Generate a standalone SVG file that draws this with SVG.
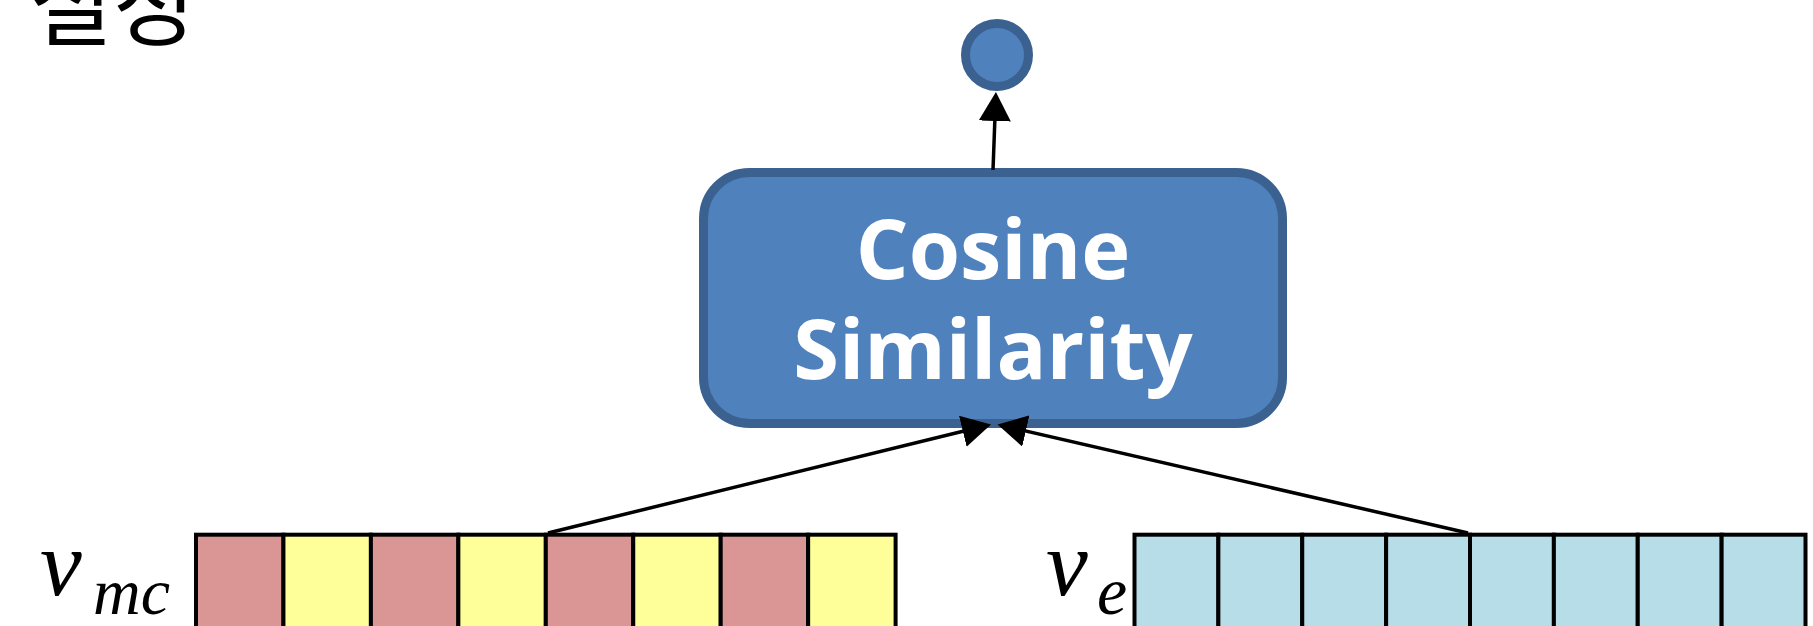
<svg xmlns="http://www.w3.org/2000/svg" width="1813" height="626" viewBox="0 0 1813 626">
  <style>
    .title { font-family: "Noto Sans CJK KR", "Noto Sans", sans-serif; font-size: 90px; fill: #000; }
    .node-box { fill: #4F81BD; stroke: #3A6190; stroke-width: 9; }
    .node-label { font-family: "Open Sans", "Liberation Sans", sans-serif; font-weight: 700; font-size: 83px; fill: #FFFFFF; text-anchor: middle; }
    .cell { stroke: #000; stroke-width: 4; }
    .pink { fill: #D99694; }
    .yellow { fill: #FFFF99; }
    .aqua { fill: #B7DDE8; }
    .math { font-family: "Liberation Serif", "DejaVu Serif", serif; font-style: italic; fill: #000; }
    .edge { stroke: #000; stroke-width: 3.5; fill: none; }
  </style>
  <defs>
    <marker id="arrow" markerUnits="userSpaceOnUse" markerWidth="30" markerHeight="32" refX="18" refY="16" orient="auto">
      <path d="M0,0 L29,16 L0,32 Z" fill="#000"/>
    </marker>
  </defs>

  <rect width="1813" height="626" fill="#FFFFFF"/>

  <!-- heading, clipped by the top edge -->
  <text class="title" x="30" y="38">설정</text>

  <!-- output score -->
  <g id="node-output">
    <circle cx="997" cy="55" r="31.5" fill="#4F81BD" stroke="#3A6190" stroke-width="9"/>
  </g>

  <!-- similarity block -->
  <g id="node-cosine">
    <rect class="node-box" x="703.5" y="172.5" width="579" height="251" rx="46" ry="46"/>
    <text class="node-label" x="993" y="279">Cosine</text>
    <text class="node-label" x="993" y="379">Similarity</text>
  </g>

  <!-- v_mc vector -->
  <g id="node-vmc">
    <text class="math" font-size="94" x="40" y="595">v</text>
    <text class="math" font-size="66" x="93" y="614">mc</text>
    <rect class="cell pink"   x="196"    y="534.7" width="87.45" height="110"/>
    <rect class="cell yellow" x="283.45" y="534.7" width="87.45" height="110"/>
    <rect class="cell pink"   x="370.9"  y="534.7" width="87.45" height="110"/>
    <rect class="cell yellow" x="458.35" y="534.7" width="87.45" height="110"/>
    <rect class="cell pink"   x="545.8"  y="534.7" width="87.45" height="110"/>
    <rect class="cell yellow" x="633.25" y="534.7" width="87.45" height="110"/>
    <rect class="cell pink"   x="720.7"  y="534.7" width="87.45" height="110"/>
    <rect class="cell yellow" x="808.15" y="534.7" width="87.45" height="110"/>
  </g>

  <!-- v_e vector -->
  <g id="node-ve">
    <text class="math" font-size="94" x="1046" y="595">v</text>
    <text class="math" font-size="68" x="1097" y="614">e</text>
    <rect class="cell aqua" x="1134.5"  y="534.7" width="83.875" height="110"/>
    <rect class="cell aqua" x="1218.375" y="534.7" width="83.875" height="110"/>
    <rect class="cell aqua" x="1302.25" y="534.7" width="83.875" height="110"/>
    <rect class="cell aqua" x="1386.125" y="534.7" width="83.875" height="110"/>
    <rect class="cell aqua" x="1470"    y="534.7" width="83.875" height="110"/>
    <rect class="cell aqua" x="1553.875" y="534.7" width="83.875" height="110"/>
    <rect class="cell aqua" x="1637.75" y="534.7" width="83.875" height="110"/>
    <rect class="cell aqua" x="1721.625" y="534.7" width="83.875" height="110"/>
  </g>

  <!-- connectors, drawn over the shapes they touch -->
  <g id="connectors">
    <line class="edge" x1="993" y1="170" x2="995.5" y2="103" marker-end="url(#arrow)"/>
    <line class="edge" x1="548" y1="533" x2="980.3" y2="427" marker-end="url(#arrow)"/>
    <line class="edge" x1="1468" y1="533" x2="1008.3" y2="427" marker-end="url(#arrow)"/>
  </g>
</svg>
